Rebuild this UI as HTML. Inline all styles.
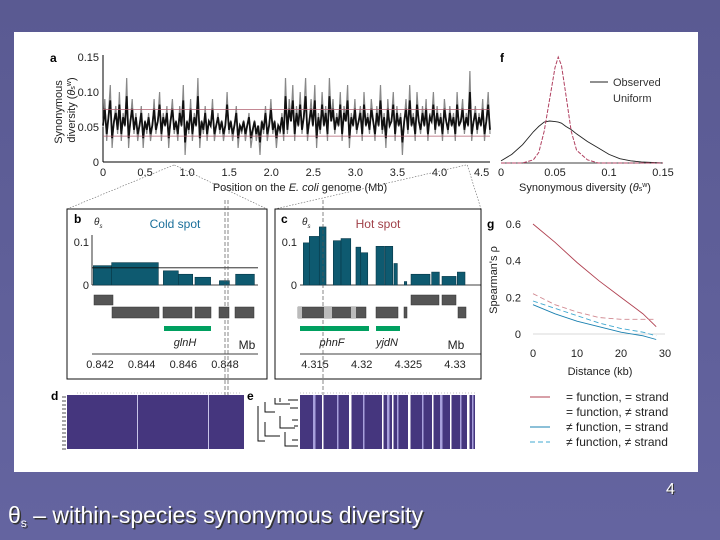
<!DOCTYPE html>
<html><head><meta charset="utf-8"><style>
html,body{margin:0;padding:0;width:720px;height:540px;overflow:hidden;background:#5f5f96;font-family:"Liberation Sans",sans-serif}
</style></head><body>
<svg width="720" height="540" viewBox="0 0 720 540" xmlns="http://www.w3.org/2000/svg" font-family="Liberation Sans, sans-serif">
<defs><linearGradient id="bg" x1="0" y1="0" x2="0" y2="1"><stop offset="0" stop-color="#5a5a92"/><stop offset="1" stop-color="#6464a0"/></linearGradient></defs>
<rect width="720" height="540" fill="url(#bg)"/>
<rect x="14" y="32" width="684" height="440" fill="#fff"/>
<g id="A"></g>
<g id="F"></g>
<g id="G"></g>
<g id="B"></g>
<g id="C"></g>
<g id="DE"></g>
<text x="8" y="523" font-size="23" fill="#333" transform="translate(1.5,1.5)">θ<tspan font-size="12" dy="4">s</tspan><tspan dy="-4"> – within-species synonymous diversity</tspan></text>
<text x="8" y="523" font-size="23" fill="#fff">θ<tspan font-size="12" dy="4">s</tspan><tspan dy="-4"> – within-species synonymous diversity</tspan></text>
<text x="666" y="494" font-size="16" fill="#333" transform="translate(1,1)">4</text>
<text x="666" y="494" font-size="16" fill="#fff">4</text>
</svg>
<script>
// ---- data ----
const aTicksX=[0,0.5,1.0,1.5,2.0,2.5,3.0,3.5,4.0,4.5];
const aTicksY=[0,0.05,0.10,0.15];
const aDiversity=[0.05,0.09,0.03,0.07,0.11,0.02,0.06,0.08,0.04,0.10,0.03,0.07,0.05,0.12,0.02,0.06,0.09,0.04,0.07,0.03,0.05,0.08,0.02,0.06,0.04,0.07,0.03,0.05,0.09,0.04,0.06,0.10,0.03,0.07,0.05,0.08,0.02,0.06,0.09,0.04,0.06,0.03,0.08,0.05,0.11,0.01,0.06,0.04,0.09,0.03,0.07,0.05,0.12,0.02,0.06,0.04,0.08,0.03,0.06,0.05,0.09,0.03,0.05,0.07,0.04,0.06,0.03,0.05,0.10,0.04,0.06,0.03,0.05,0.08,0.02,0.05,0.04,0.06,0.03,0.05,0.07,0.02,0.04,0.06,0.03,0.05,0.01,0.06,0.04,0.08,0.03,0.05,0.09,0.04,0.06,0.02,0.05,0.04,0.07,0.03,0.12,0.04,0.09,0.06,0.11,0.03,0.08,0.05,0.10,0.04,0.07,0.12,0.03,0.06,0.09,0.05,0.11,0.02,0.07,0.04,0.10,0.05,0.08,0.03,0.12,0.06,0.09,0.04,0.07,0.05,0.10,0.03,0.08,0.06,0.11,0.02,0.07,0.05,0.09,0.04,0.06,0.08,0.03,0.10,0.05,0.07,0.04,0.09,0.06,0.03,0.08,0.05,0.11,0.04,0.07,0.02,0.09,0.05,0.06,0.10,0.03,0.08,0.05,0.07,0.01,0.06,0.09,0.04,0.11,0.05,0.07,0.03,0.10,0.06,0.04,0.08,0.05,0.09,0.03,0.07,0.06,0.10,0.04,0.08,0.05,0.07,0.03,0.09,0.06,0.04,0.08,0.05,0.07,0.03,0.10,0.05,0.06,0.09,0.04,0.07,0.05,0.13,0.03,0.06,0.08,0.04,0.07,0.05,0.09,0.03,0.06,0.10,0.04];
const fX=[0,0.01,0.02,0.03,0.035,0.04,0.045,0.05,0.053,0.056,0.06,0.065,0.07,0.08,0.09,0.1,0.11,0.12,0.13,0.15];
const fObserved=[0.02,0.08,0.17,0.29,0.34,0.38,0.39,0.385,0.38,0.37,0.34,0.31,0.27,0.2,0.14,0.08,0.04,0.02,0.01,0];
const fUniform=[0,0,0,0.03,0.1,0.3,0.6,0.9,1.0,0.92,0.65,0.3,0.12,0.03,0,0,0,0,0,0];
const fTicks=[0,0.05,0.1,0.15];
const gDist=[0,5,10,15,20,25,28];
const gSameSame=[0.6,0.5,0.39,0.29,0.2,0.11,0.04];
const gSameDiff=[0.22,0.16,0.12,0.09,0.08,0.08,0.08];
const gDiffSame=[0.16,0.11,0.07,0.04,0.01,-0.01,-0.03];
const gDiffDiff=[0.18,0.14,0.1,0.06,0.03,0.01,-0.01];
const gTicksX=[0,10,20,30];
const gTicksY=[0,0.2,0.4,0.6];
const bStart=[0.84168,0.84256,0.84504,0.84576,0.84656,0.84773,0.84851];
const bEnd=[0.84256,0.8448,0.84576,0.84645,0.84731,0.84821,0.84941];
const bTheta=[0.045,0.052,0.033,0.025,0.018,0.01,0.025];
const bTicks=[0.842,0.844,0.846,0.848];
const cStart=[4.31375,4.31439,4.31546,4.31696,4.31779,4.31939,4.3199,4.32154,4.3225,4.32346,4.32457,4.32529,4.3275,4.32861,4.33025];
const cEnd=[4.31439,4.31546,4.31618,4.31779,4.31883,4.3199,4.32065,4.32243,4.32333,4.32382,4.32483,4.32732,4.32832,4.33011,4.33107];
const cTheta=[0.098,0.113,0.135,0.103,0.108,0.088,0.075,0.09,0.09,0.05,0.008,0.025,0.03,0.02,0.03];
const cTicks=[4.315,4.32,4.325,4.33];
const eStripes=[313,322,337,349,363,382,387,392,397,408,422,432,440,450,460,467,472,475];

const NS='http://www.w3.org/2000/svg';
function mk(p,tag,at,txt){const e=document.createElementNS(NS,tag);for(const k in at)e.setAttribute(k,at[k]);if(txt!==undefined)e.textContent=txt;p.appendChild(e);return e;}
function lin(d0,d1,r0,r1){return v=>r0+(v-d0)*(r1-r0)/(d1-d0);}

// ---- panel a ----
const A=document.getElementById('A');
const ax=lin(0,4.6,103,490), ay=lin(0,0.15,162,57);
let t=mk(A,'text',{x:50,y:62,'font-size':12,'font-weight':'bold'},'a');


mk(A,'line',{x1:103,y1:55,x2:103,y2:162,stroke:'#000','stroke-width':1});
mk(A,'line',{x1:103,y1:162,x2:490,y2:162,stroke:'#000','stroke-width':1});
aTicksY.forEach(v=>{const l=mk(A,'text',{x:99,y:ay(v)+4,'font-size':11,'text-anchor':'end',fill:'#222'},v===0?'0':v.toFixed(2));

});
aTicksX.forEach(v=>{const l=mk(A,'text',{x:ax(v),y:176,'font-size':11,'text-anchor':'middle',fill:'#222'},v===0?'0':v.toFixed(1));

});
t=mk(A,'text',{x:300,y:191,'font-size':11,'text-anchor':'middle',fill:'#222'});
t.innerHTML='Position on the <tspan font-style="italic">E. coli</tspan> genome (Mb)';


t=mk(A,'text',{transform:'translate(62,112) rotate(-90)','font-size':11,'text-anchor':'middle',fill:'#222'},'Synonymous');


t=mk(A,'text',{transform:'translate(75,110) rotate(-90)','font-size':11,'text-anchor':'middle',fill:'#222'});
t.innerHTML='diversity (<tspan font-style="italic">θ</tspan><tspan font-size="7">s</tspan><tspan font-size="7" dy="-4">w</tspan><tspan dy="4">)</tspan>';


let pts=aDiversity.map((v,i)=>ax(i*4.6/(aDiversity.length-1)).toFixed(1)+','+ay(v).toFixed(1)).join(' ');
let pl=mk(A,'polyline',{points:pts,fill:'none',stroke:'#888','stroke-width':1.2});


pts=aDiversity.map((v,i)=>ax(i*4.6/(aDiversity.length-1)).toFixed(1)+','+ay(0.055+(v-0.055)*0.6).toFixed(1)).join(' ');
pl=mk(A,'polyline',{points:pts,fill:'none',stroke:'#111','stroke-width':1.8});


[0.075,0.037].forEach(v=>{const l=mk(A,'line',{x1:103,x2:490,y1:ay(v),y2:ay(v),stroke:'#b06070','stroke-width':0.8});

});
[[ax(0.842),165,67,209],[ax(0.848),165,267,209],[ax(4.315),165,275,209],[ax(4.33),165,481,209]].forEach(c=>{const l=mk(A,'line',{x1:c[0],y1:c[1],x2:c[2],y2:c[3],stroke:'#666','stroke-width':0.6,'stroke-dasharray':'1.5,1.5'});

});

// ---- panel f ----
const F=document.getElementById('F');
const fx=lin(0,0.15,501,663), fyU=lin(0,1,163,57), fyO=v=>163-v*(163-121)/0.39;
t=mk(F,'text',{x:500,y:62,'font-size':12,'font-weight':'bold'},'f');


mk(F,'line',{x1:501,y1:163,x2:663,y2:163,stroke:'#000','stroke-width':0.8});
fTicks.forEach(v=>{const l=mk(F,'text',{x:fx(v),y:176,'font-size':11,'text-anchor':'middle',fill:'#222'},String(v));

});
t=mk(F,'text',{x:585,y:191,'font-size':11,'text-anchor':'middle',fill:'#222'});
t.innerHTML='Synonymous diversity (<tspan font-style="italic">θ</tspan><tspan font-size="7">s</tspan><tspan font-size="7" dy="-4">w</tspan><tspan dy="4">)</tspan>';


pl=mk(F,'polyline',{points:fX.map((x,i)=>fx(x)+','+fyO(fObserved[i])).join(' '),fill:'none',stroke:'#222','stroke-width':0.9});


pl=mk(F,'polyline',{points:fX.map((x,i)=>fx(x)+','+fyU(fUniform[i])).join(' '),fill:'none',stroke:'#b04060','stroke-width':1,'stroke-dasharray':'4,1.5'});


mk(F,'line',{x1:590,x2:608,y1:82,y2:82,stroke:'#222'});
t=mk(F,'text',{x:613,y:86,'font-size':11,fill:'#333'},'Observed');


t=mk(F,'text',{x:613,y:102,'font-size':11,fill:'#333'},'Uniform');



// ---- panel g ----
const G=document.getElementById('G');
const gx=lin(0,30,533,665), gy=lin(0,0.6,334,224);
t=mk(G,'text',{x:487,y:228,'font-size':12,'font-weight':'bold'},'g');


mk(G,'line',{x1:533,x2:665,y1:gy(0),y2:gy(0),stroke:'#ccc','stroke-width':0.8});
gTicksY.forEach(v=>{const l=mk(G,'text',{x:521,y:gy(v)+4,'font-size':11,'text-anchor':'end',fill:'#222'},v===0?'0':v.toFixed(1));

});
gTicksX.forEach(v=>{const l=mk(G,'text',{x:gx(v),y:357,'font-size':11,'text-anchor':'middle',fill:'#222'},String(v));

});
t=mk(G,'text',{x:600,y:375,'font-size':11,'text-anchor':'middle',fill:'#222'},'Distance (kb)');


t=mk(G,'text',{transform:'translate(497,280) rotate(-90)','font-size':11,'text-anchor':'middle',fill:'#222'},"Spearman's ρ");


const gS=[[gSameSame,'#b04050',''],[gSameDiff,'#d08890','5,3'],[gDiffSame,'#1a80b0',''],[gDiffDiff,'#40a8d0','5,3']];
gS.forEach(s=>{const l=mk(G,'polyline',{points:gDist.map((d,i)=>gx(d)+','+gy(s[0][i])).join(' '),fill:'none',stroke:s[1],'stroke-width':0.9,'stroke-dasharray':s[2]});

});
const gL=['= function, = strand','= function, ≠ strand','≠ function, = strand','≠ function, ≠ strand'];
gL.forEach((s,i)=>{const y=397+i*15;
if(i!==1)mk(G,'line',{x1:530,x2:550,y1:y,y2:y,stroke:gS[i][1],'stroke-dasharray':gS[i][2]});
const l=mk(G,'text',{x:566,y:y+4,'font-size':12,fill:'#222'},s);

});

// ---- panel b ----
const B=document.getElementById('B');
const bx=lin(0.842,0.848,100,225), by=lin(0,0.1,285,242);
mk(B,'rect',{x:67,y:209,width:200,height:170,fill:'none',stroke:'#111','stroke-width':1});
t=mk(B,'text',{x:74,y:223,'font-size':12,'font-weight':'bold'},'b');


t=mk(B,'text',{x:94,y:225,'font-size':10,'font-style':'italic',fill:'#222'});t.innerHTML='θ<tspan font-size="6" dy="3">s</tspan>';
t=mk(B,'text',{x:175,y:228,'font-size':12,'text-anchor':'middle',fill:'#1a6f9a'},'Cold spot');


mk(B,'line',{x1:92,y1:235,x2:92,y2:285,stroke:'#000','stroke-width':0.8});
mk(B,'line',{x1:92,y1:285,x2:258,y2:285,stroke:'#000','stroke-width':0.8});
[[0,'0'],[0.1,'0.1']].forEach(v=>mk(B,'text',{x:89,y:by(v[0])+4,'font-size':11,'text-anchor':'end',fill:'#222'},v[1]));
bStart.forEach((s,i)=>{const r=mk(B,'rect',{x:bx(s),y:by(bTheta[i]),width:bx(bEnd[i])-bx(s),height:285-by(bTheta[i]),fill:'#0e5a70',stroke:'#083848','stroke-width':0.6});

});
mk(B,'line',{x1:92,x2:258,y1:by(0.04),y2:by(0.04),stroke:'#111','stroke-width':0.9});
[[94,295,19],[112,307,47],[163,307,29],[195,307,16],[219,307,10],[235,307,19]].forEach((g,i)=>{const r=mk(B,'rect',{x:g[0],y:g[1],width:g[2],height:i?11:10,fill:'#555',stroke:'#333','stroke-width':0.5});

});
mk(B,'rect',{x:164,y:326,width:47,height:5,fill:'#00a060'});
t=mk(B,'text',{x:185,y:346,'font-size':11,'font-style':'italic','text-anchor':'middle',fill:'#222'},'glnH');


mk(B,'text',{x:247,y:349,'font-size':12,'text-anchor':'middle',fill:'#222'},'Mb');
mk(B,'line',{x1:92,x2:258,y1:354,y2:354,stroke:'#000','stroke-width':0.8});
bTicks.forEach(v=>{const l=mk(B,'text',{x:bx(v),y:368,'font-size':11,'text-anchor':'middle',fill:'#222'},v.toFixed(3));

});
[225,228].forEach(x=>mk(B,'line',{x1:x,x2:x,y1:200,y2:395,stroke:'#555','stroke-width':0.7,'stroke-dasharray':'4,2'}));

// ---- panel c ----
const C=document.getElementById('C');
const cx=lin(4.315,4.33,315,455), cy=by;
mk(C,'rect',{x:275,y:209,width:206,height:170,fill:'none',stroke:'#111','stroke-width':1});
t=mk(C,'text',{x:281,y:223,'font-size':12,'font-weight':'bold'},'c');


t=mk(C,'text',{x:302,y:225,'font-size':10,'font-style':'italic',fill:'#222'});t.innerHTML='θ<tspan font-size="6" dy="3">s</tspan>';
t=mk(C,'text',{x:378,y:228,'font-size':12,'text-anchor':'middle',fill:'#a04048'},'Hot spot');


mk(C,'line',{x1:300,y1:285,x2:481,y2:285,stroke:'#000','stroke-width':0.8});
[[0,'0'],[0.1,'0.1']].forEach(v=>mk(C,'text',{x:297,y:cy(v[0])+4,'font-size':11,'text-anchor':'end',fill:'#222'},v[1]));
cStart.forEach((s,i)=>{const r=mk(C,'rect',{x:cx(s),y:cy(cTheta[i]),width:cx(cEnd[i])-cx(s),height:285-cy(cTheta[i]),fill:'#0e5a70',stroke:'#083848','stroke-width':0.6});

});
[[411,295,28,10],[442,295,14,10],[298,307,68,11],[376,307,22,11],[404,307,3,11],[458,307,8,11]].forEach(g=>{const r=mk(C,'rect',{x:g[0],y:g[1],width:g[2],height:g[3],fill:'#555',stroke:'#333','stroke-width':0.5});

});
[[298,307,4],[324,307,8],[351,307,5]].forEach(g=>mk(C,'rect',{x:g[0],y:g[1],width:g[2],height:11,fill:'#bbb'}));
mk(C,'rect',{x:300,y:326,width:69,height:5,fill:'#00a060'});
mk(C,'rect',{x:376,y:326,width:24,height:5,fill:'#00a060'});
t=mk(C,'text',{x:332,y:346,'font-size':11,'font-style':'italic','text-anchor':'middle',fill:'#222'},'phnF');


t=mk(C,'text',{x:387,y:346,'font-size':11,'font-style':'italic','text-anchor':'middle',fill:'#222'},'yjdN');


mk(C,'text',{x:456,y:349,'font-size':12,'text-anchor':'middle',fill:'#222'},'Mb');
mk(C,'line',{x1:300,x2:481,y1:354,y2:354,stroke:'#000','stroke-width':0.8});
cTicks.forEach(v=>{const l=mk(C,'text',{x:cx(v),y:368,'font-size':11,'text-anchor':'middle',fill:'#222'},String(v));

});
mk(C,'line',{x1:323,x2:323,y1:200,y2:395,stroke:'#555','stroke-width':0.7,'stroke-dasharray':'4,2'});

// ---- panels d, e ----
const DE=document.getElementById('DE');
t=mk(DE,'text',{x:51,y:400,'font-size':12,'font-weight':'bold'},'d');


let r=mk(DE,'rect',{x:67,y:395,width:177,height:54,fill:'#45367e'});


[137,208].forEach(x=>mk(DE,'rect',{x:x,y:395,width:1,height:54,fill:'#c8c4e8'}));
for(let i=0;i<14;i++)mk(DE,'line',{x1:62,x2:66,y1:397+i*4,y2:397+i*4,stroke:'#222','stroke-width':0.8});
t=mk(DE,'text',{x:247,y:400,'font-size':12,'font-weight':'bold'},'e');


r=mk(DE,'rect',{x:300,y:395,width:176,height:54,fill:'#45367e'});


eStripes.forEach((x,i)=>mk(DE,'rect',{x:x,y:395,width:i%3?1.5:2.5,height:54,fill:i%2?'#fff':'#a8a0dc'}));
mk(DE,'path',{d:'M258,406 V441 H265 M265,402 V412 H275 M265,422 V436 H280 M280,398 V402 M275,398 V404 H290 M280,416 V428 H295 M285,432 V446 H298 M288,400 H298 M290,408 H298 M292,420 H298 M294,426 H298 M292,440 H298',fill:'none',stroke:'#111','stroke-width':1});
mk(DE,'line',{x1:77,y1:393,x2:240,y2:393,stroke:'#888','stroke-width':0.5,'stroke-dasharray':'1,2'});
mk(DE,'line',{x1:300,y1:393,x2:476,y2:393,stroke:'#888','stroke-width':0.5,'stroke-dasharray':'1,2'});
</script>
</body></html>
